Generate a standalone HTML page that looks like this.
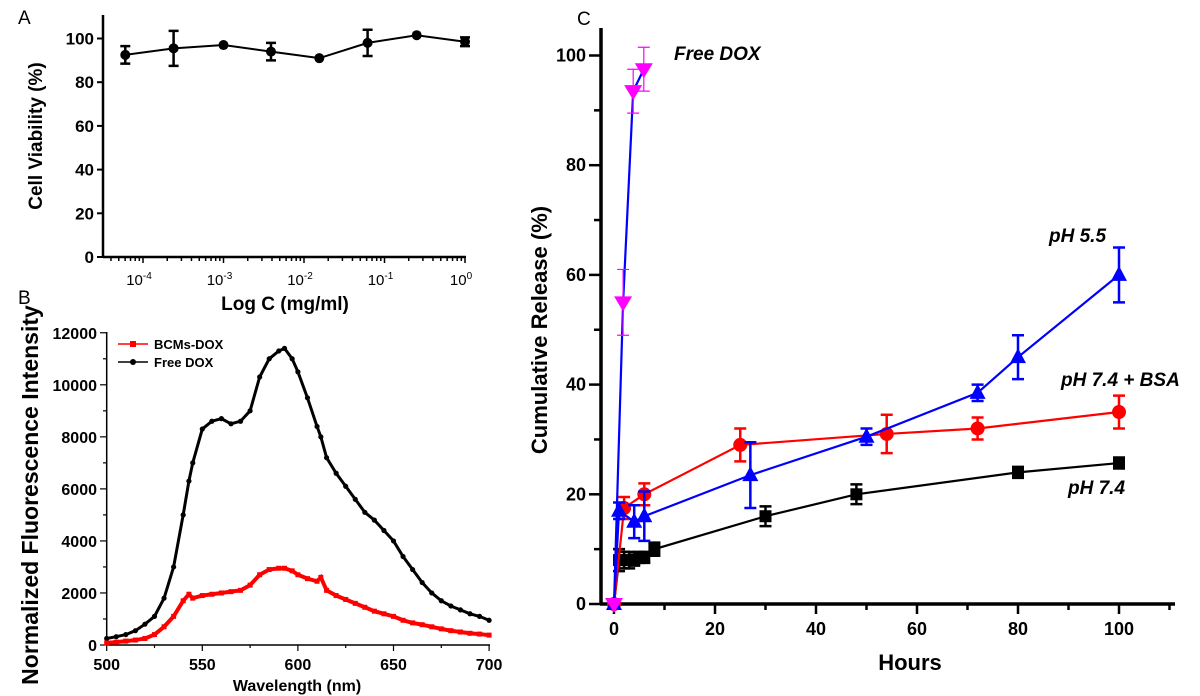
<!DOCTYPE html>
<html><head><meta charset="utf-8"><style>
body{margin:0;background:#fff;}
svg{display:block;font-family:"Liberation Sans",Arial,sans-serif;font-weight:bold;}
</style></head><body>
<svg id="fig" width="1200" height="696" viewBox="0 0 1200 696">
<text x="18" y="24" font-size="19" font-weight="normal">A</text>
<text x="18" y="304" font-size="19" font-weight="normal">B</text>
<text x="577" y="25" font-size="19" font-weight="normal">C</text>
<g id="pa"></g>
<g id="pb"></g>
<g id="pc"></g>
</svg>
<script>
// ---- Panel A data ----
const aLogX = [-4.22, -3.62, -3.0, -2.41, -1.81, -1.21, -0.6, 0];
const aVal = [92.5, 95.5, 97, 94, 91, 98, 101.5, 98.5];
const aErr = [4, 8, 0, 4, 0, 6, 0, 2];
const aYTicks = [0, 20, 40, 60, 80, 100];
const aXTicks = [-4, -3, -2, -1, 0];
// ---- Panel B data ----
const bWl = [500,505,510,515,520,525,530,535,540,543,545,550,555,560,565,570,575,580,585,590,593,597,600,605,610,612,615,620,625,630,635,640,645,650,655,660,665,670,675,680,685,690,695,700];
const bFree = [250,320,400,550,800,1100,1800,3000,5000,6300,7000,8300,8600,8700,8500,8600,9000,10300,11000,11300,11400,11000,10500,9500,8400,8000,7200,6600,6100,5600,5100,4800,4400,4000,3400,2900,2400,2000,1700,1500,1350,1200,1100,950];
const bBcm = [80,110,150,190,250,400,700,1100,1700,1950,1800,1900,1950,2000,2050,2100,2300,2700,2900,2950,2950,2850,2700,2550,2450,2600,2100,1900,1750,1600,1450,1300,1200,1100,950,850,780,700,620,550,500,450,420,380];
const bYTicks = [0,2000,4000,6000,8000,10000,12000];
const bXTicks = [500,550,600,650,700];
// ---- Panel C data ----
const cT74 = [0,1,2,3,4,5,6,8,30,48,80,100];
const cV74 = [0,8,8,8,8,8.5,8.5,10,16,20,24,25.7];
const cE74 = [0,2,1.5,1.5,1,1,1,1.2,1.8,1.8,1,1];
const cTBsa = [0,2,6,25,54,72,100];
const cVBsa = [0,17.5,20,29,31,32,35];
const cEBsa = [0,2,2,3,3.5,2,3];
const cT55 = [0,1,4,6,27,50,72,80,100];
const cV55 = [0,17,15,16,23.5,30.5,38.5,45,60];
const cE55 = [0,1.5,3,4.5,6,1.5,1.5,4,5];
const cTFree = [0,1.8,3.8,5.9];
const cVFree = [0,55,93.5,97.5];
const cEFree = [0,6,4,4];
const cYTicks = [0,20,40,60,80,100];
const cXTicks = [0,20,40,60,80,100];

const NS = "http://www.w3.org/2000/svg";
function mk(parent, tag, attrs, txt){
  const e = document.createElementNS(NS, tag);
  for (const k in attrs) e.setAttribute(k, attrs[k]);
  if (txt !== undefined) e.textContent = txt;
  parent.appendChild(e);
  return e;
}

// ===== Panel A =====
(function(){
  const g = document.getElementById('pa');
  const x = v => 465 + v * 80.5;
  const y = v => 257 - v * 2.185;
  let e;
  e = mk(g,'line',{x1:103,y1:15,x2:103,y2:257,stroke:'#000','stroke-width':2.5});
   
  e = mk(g,'line',{x1:103,y1:257,x2:466,y2:257,stroke:'#000','stroke-width':2.5});
   
  aYTicks.forEach(t=>{
    mk(g,'line',{x1:97,y1:y(t),x2:103,y2:y(t),stroke:'#000','stroke-width':2});
    e = mk(g,'text',{x:94,y:y(t)+6,'font-size':17,'text-anchor':'end'},t);
     
  });
  for (let d=-5; d<0; d++) for (let m=1; m<10; m++){
    const lx = d + Math.log10(m);
    const px = x(lx);
    if (px < 104 || px > 466) continue;
    mk(g,'line',{x1:px,y1:257,x2:px,y2:m===1?263:261,stroke:'#000','stroke-width':1.5});
  }
  mk(g,'line',{x1:x(0),y1:257,x2:x(0),y2:263,stroke:'#000','stroke-width':1.5});
  aXTicks.forEach(t=>{
    e = mk(g,'text',{x:x(t)-4,y:285,'font-size':15,'font-weight':'normal','text-anchor':'middle'});
     
    mk(e,'tspan',{},'10');
    mk(e,'tspan',{dy:-6,'font-size':10},String(t));
  });
  e = mk(g,'text',{x:285,y:310,'font-size':19,'text-anchor':'middle'},'Log C (mg/ml)');
   
  e = mk(g,'text',{x:0,y:0,'font-size':19,'text-anchor':'middle',transform:'translate(42,136) rotate(-90)'},'Cell Viability (%)');
   
  e = mk(g,'polyline',{points:aLogX.map((v,i)=>x(v)+','+y(aVal[i])).join(' '),fill:'none',stroke:'#000','stroke-width':2});
   
  aLogX.forEach((v,i)=>{
    if (aErr[i]>0){
      const y1=y(aVal[i]+aErr[i]), y2=y(aVal[i]-aErr[i]);
      mk(g,'path',{d:`M${x(v)},${y1}V${y2}M${x(v)-5},${y1}h10M${x(v)-5},${y2}h10`,stroke:'#000','stroke-width':2.5,fill:'none'});
    }
    e = mk(g,'circle',{cx:x(v),cy:y(aVal[i]),r:5,fill:'#000'});
     
  });
})();

// ===== Panel B =====
(function(){
  const g = document.getElementById('pb');
  const x = v => 106.7 + (v-500) * 1.912;
  const y = v => 645 - v * 0.02602;
  let e;
  e = mk(g,'line',{x1:106.7,y1:332,x2:106.7,y2:645,stroke:'#000','stroke-width':1.5});
   
  e = mk(g,'line',{x1:106.7,y1:645,x2:490,y2:645,stroke:'#000','stroke-width':1.5});
   
  for (let t=0;t<=12000;t+=1000){
    mk(g,'line',{x1:t%2000===0?100:103,y1:y(t),x2:106.7,y2:y(t),stroke:'#000','stroke-width':1.2});
  }
  bYTicks.forEach(t=>{
    e = mk(g,'text',{x:97,y:y(t)+6,'font-size':16,'text-anchor':'end'},t);
     
  });
  for (let t=500;t<=700;t+=25){
    mk(g,'line',{x1:x(t),y1:645,x2:x(t),y2:t%50===0?651:648,stroke:'#000','stroke-width':1.2});
  }
  bXTicks.forEach(t=>{
    e = mk(g,'text',{x:x(t),y:670,'font-size':16,'text-anchor':'middle'},t);
     
  });
  e = mk(g,'text',{x:297,y:691,'font-size':16,'text-anchor':'middle'},'Wavelength (nm)');
   
  e = mk(g,'text',{x:0,y:0,'font-size':23,'text-anchor':'middle',transform:'translate(38,495) rotate(-90)'},'Normalized Fluorescence Intensity');
   
  e = mk(g,'polyline',{points:bWl.map((v,i)=>x(v)+','+y(bFree[i])).join(' '),fill:'none',stroke:'#000','stroke-width':3});
   
  bWl.forEach((v,i)=>{
    e = mk(g,'circle',{cx:x(v),cy:y(bFree[i]),r:2.6,fill:'#000'});
     
  });
  e = mk(g,'polyline',{points:bWl.map((v,i)=>x(v)+','+y(bBcm[i])).join(' '),fill:'none',stroke:'#f00','stroke-width':4});
   
  bWl.forEach((v,i)=>{
    e = mk(g,'rect',{x:x(v)-2.5,y:y(bBcm[i])-2.5,width:5,height:5,fill:'#f00'});
     
  });
  const lg = mk(g,'g',{});
   
  mk(lg,'line',{x1:118,y1:344,x2:148,y2:344,stroke:'#f00','stroke-width':1.5});
  mk(lg,'rect',{x:130,y:341,width:6,height:6,fill:'#f00'});
  mk(lg,'text',{x:154,y:349,'font-size':13},'BCMs-DOX');
  mk(lg,'line',{x1:118,y1:362,x2:148,y2:362,stroke:'#000','stroke-width':1.5});
  mk(lg,'circle',{cx:133,cy:362,r:3,fill:'#000'});
  mk(lg,'text',{x:154,y:367,'font-size':13},'Free DOX');
})();

// ===== Panel C =====
(function(){
  const g = document.getElementById('pc');
  const x = v => 614 + v * 5.05;
  const y = v => 604 - v * 5.485;
  let e;
  e = mk(g,'line',{x1:601,y1:28,x2:601,y2:605,stroke:'#000','stroke-width':3.5});
   
  e = mk(g,'line',{x1:600,y1:604,x2:1175,y2:604,stroke:'#000','stroke-width':3.5});
   
  for (let t=0;t<=100;t+=10) mk(g,'line',{x1:t%20===0?589:594,y1:y(t),x2:601,y2:y(t),stroke:'#000','stroke-width':2.5});
  cYTicks.forEach(t=>{
    e = mk(g,'text',{x:586,y:y(t)+6,'font-size':18,'text-anchor':'end'},t);
     
  });
  for (let t=0;t<=110;t+=10) mk(g,'line',{x1:x(t),y1:604,x2:x(t),y2:t%20===0?614:610,stroke:'#000','stroke-width':2.5});
  cXTicks.forEach(t=>{
    e = mk(g,'text',{x:x(t),y:635,'font-size':18,'text-anchor':'middle'},t);
     
  });
  e = mk(g,'text',{x:910,y:670,'font-size':22,'text-anchor':'middle'},'Hours');
   
  e = mk(g,'text',{x:0,y:0,'font-size':22,'text-anchor':'middle',transform:'translate(547,330) rotate(-90)'},'Cumulative Release (%)');
   

  function series(ts, vs, es, color, lineColor, shape, name, ew){
    let s = mk(g,'polyline',{points:ts.map((t,i)=>x(t)+','+y(vs[i])).join(' '),fill:'none',stroke:lineColor,'stroke-width':2.2});
     
    ts.forEach((t,i)=>{
      const cx=x(t), cy=y(vs[i]);
      if (es[i]>0){
        const y1=y(vs[i]+es[i]), y2=y(vs[i]-es[i]);
        mk(g,'path',{d:`M${cx},${y1}V${y2}M${cx-6},${y1}h12M${cx-6},${y2}h12`,stroke:color,'stroke-width':ew,fill:'none'});
      }
      let m;
      if (shape==='sq') m = mk(g,'rect',{x:cx-6,y:cy-6,width:12,height:12,fill:color});
      else if (shape==='ci') m = mk(g,'circle',{cx:cx,cy:cy,r:7,fill:color});
      else if (shape==='up') m = mk(g,'polygon',{points:`${cx},${cy-9} ${cx-8},${cy+6} ${cx+8},${cy+6}`,fill:color});
      else m = mk(g,'polygon',{points:`${cx},${cy+9} ${cx-9},${cy-6} ${cx+9},${cy-6}`,fill:color});
       
    });
  }
  series(cT74, cV74, cE74, '#000', '#000', 'sq', 'c-ph74', 2.5);
  series(cTBsa, cVBsa, cEBsa, '#f00', '#f00', 'ci', 'c-ph74-bsa', 2.5);
  series(cT55, cV55, cE55, '#00f', '#00f', 'up', 'c-ph55', 2.5);
  series(cTFree, cVFree, cEFree, '#f0f', '#00f', 'dn', 'c-free-dox', 1.2);

  const labels = [['Free DOX',674,60,'c-free-dox-label'],['pH 5.5',1049,242,'c-ph55-label'],['pH 7.4 + BSA',1061,386,'c-ph74-bsa-label'],['pH 7.4',1068,494,'c-ph74-label']];
  labels.forEach(l=>{
    e = mk(g,'text',{x:l[1],y:l[2],'font-size':19,'font-style':'italic'},l[0]);
     
  });
})();
</script>
</body></html>
